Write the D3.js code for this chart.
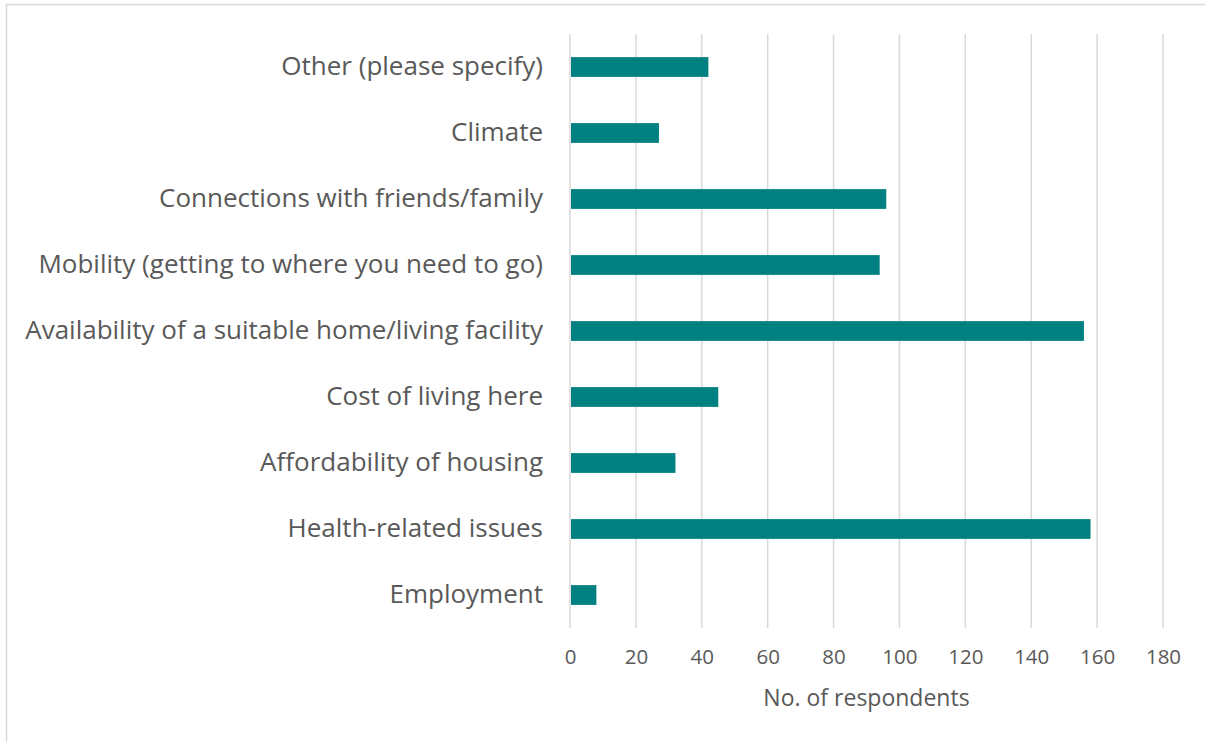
<!DOCTYPE html>
<html>
<head>
<meta charset="utf-8">
<script src="https://cdn.jsdelivr.net/npm/d3@7"></script>
<style>
  html, body { margin: 0; padding: 0; background: #ffffff; }
  svg { display: block; }
</style>
</head>
<body>
<svg id="chart" width="1205" height="742"></svg>
<script>
// Reasons given, top to bottom as they appear on the chart
const categories = [
  "Other (please specify)",
  "Climate",
  "Connections with friends/family",
  "Mobility (getting to where you need to go)",
  "Availability of a suitable home/living facility",
  "Cost of living here",
  "Affordability of housing",
  "Health-related issues",
  "Employment"
];
const respondents = [42, 27, 96, 94, 156, 45, 32, 158, 8];
const xTicks = [0, 20, 40, 60, 80, 100, 120, 140, 160, 180];
const xTitle = "No. of respondents";

const W = 1205, H = 742;
const plot = { left: 570, right: 1163, top: 34, bottom: 628 };
const font = "'Open Sans', Lato, 'Liberation Sans', sans-serif";
const textColor = "#595959";
const gridColor = "#d9d9d9";
const barColor = "#008080";

const svg = d3.select("#chart");

// chart-area frame
svg.append("rect")
  .attr("x", 6.5).attr("y", 4.5)
  .attr("width", W + 20).attr("height", H + 20)
  .attr("fill", "none")
  .attr("stroke", gridColor)
  .attr("stroke-width", 1.5);

const x = d3.scaleLinear().domain([0, 180]).range([plot.left, plot.right]);
const y = d3.scaleBand().domain(categories)
  .range([plot.top, plot.bottom])
  .paddingInner(0.7).paddingOuter(0.35);

// vertical gridlines
svg.append("g")
  .selectAll("line")
  .data(xTicks)
  .join("line")
  .attr("x1", d => x(d)).attr("x2", d => x(d))
  .attr("y1", plot.top).attr("y2", plot.bottom)
  .attr("stroke", gridColor)
  .attr("stroke-width", 1.5);

// bars
svg.append("g")
  .selectAll("rect")
  .data(categories.map((c, i) => ({ c, v: respondents[i] })))
  .join("rect")
  .attr("x", x(0) + 1)
  .attr("y", d => y(d.c))
  .attr("width", d => x(d.v) - x(0) - 1)
  .attr("height", y.bandwidth())
  .attr("fill", barColor);

// category labels
const yAxis = svg.append("g")
  .attr("transform", `translate(${plot.left - 27},0)`)
  .call(d3.axisLeft(y).tickSize(0).tickPadding(0));
yAxis.select(".domain").remove();
yAxis.selectAll("text")
  .attr("font-family", font)
  .attr("font-size", 26)
  .attr("fill", textColor);

// value axis labels
const xAxis = svg.append("g")
  .attr("transform", `translate(0,${plot.bottom + 21})`)
  .call(d3.axisBottom(x).tickValues(xTicks).tickSize(0).tickPadding(0));
xAxis.select(".domain").remove();
xAxis.selectAll("text")
  .attr("font-family", font)
  .attr("font-size", 20.5)
  .attr("fill", textColor);

// axis title
svg.append("text")
  .attr("x", (plot.left + plot.right) / 2)
  .attr("y", 706)
  .attr("text-anchor", "middle")
  .attr("font-family", font)
  .attr("font-size", 23)
  .attr("fill", textColor)
  .text(xTitle);
</script>
</body>
</html>
